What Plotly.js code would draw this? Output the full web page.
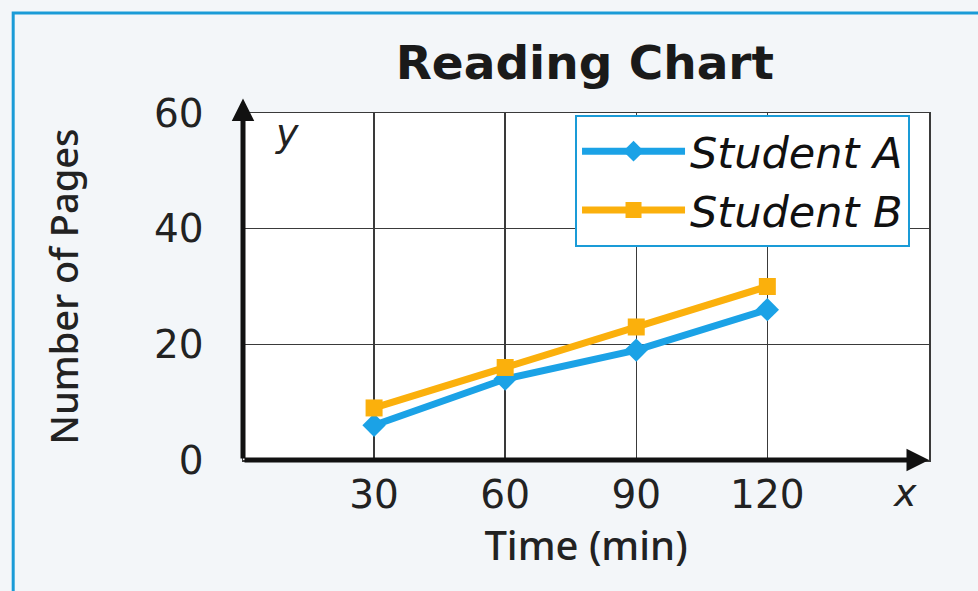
<!DOCTYPE html>
<html>
<head>
<meta charset="utf-8">
<script src="https://cdn.plot.ly/plotly-3.0.1.min.js"></script>
<style>
html,body{margin:0;padding:0;background:#f3f6f9;}
#chart{width:978px;height:591px;}
</style>
</head>
<body>
<div id="chart"></div>
<script>
// Data
const timeMin = [30, 60, 90, 120];
const studentA = [6, 14, 19, 26];
const studentB = [9, 16, 23, 30];
const xTickVals = [30, 60, 90, 120];
const xTickText = ['30', '60', '90', '120'];
const yTickVals = [0, 20, 40, 60];
const yTickText = ['0', '20', '40', '60'];
const seriesNames = ['Student A', 'Student B'];

const blue = '#1ba2e6';
const orange = '#fbb00c';
const font = 'Noto Sans, Open Sans, sans-serif';
const wide = 'DejaVu Sans, sans-serif';

const traces = [
  {
    x: timeMin, y: studentA, name: seriesNames[0], type: 'scatter', mode: 'lines+markers',
    line: {color: blue, width: 7},
    marker: {symbol: 'diamond', size: 18, color: blue},
    cliponaxis: false
  },
  {
    x: timeMin, y: studentB, name: seriesNames[1], type: 'scatter', mode: 'lines+markers',
    line: {color: orange, width: 7},
    marker: {symbol: 'square', size: 17, color: orange},
    cliponaxis: false
  }
];

const layout = {
  width: 978, height: 591,
  paper_bgcolor: '#f3f6f9',
  plot_bgcolor: '#ffffff',
  margin: {l: 243, r: 49, t: 113, b: 131, autoexpand: false},
  showlegend: true,
  title: {
    text: 'Reading Chart',
    font: {family: wide, size: 47, color: '#1a1a1a', weight: 'bold'},
    x: 0.598, xanchor: 'center', y: 0.895, yanchor: 'middle'
  },
  xaxis: {
    range: [0, 157],
    tickvals: xTickVals, ticktext: xTickText,
    showgrid: true, gridcolor: '#3a3a3a', gridwidth: 1.5,
    zeroline: false,
    showline: true, mirror: true, linecolor: '#3a3a3a', linewidth: 1.5,
    ticks: '', ticklabelstandoff: 0,
    tickfont: {family: wide, size: 39, color: '#222'},
    title: {text: 'Time (min)', font: {family: font, size: 40, color: '#222', weight: 500}, standoff: 8},
    fixedrange: true
  },
  yaxis: {
    range: [0, 60],
    tickvals: yTickVals, ticktext: yTickText,
    showgrid: true, gridcolor: '#3a3a3a', gridwidth: 1.5,
    zeroline: false,
    showline: true, mirror: true, linecolor: '#3a3a3a', linewidth: 1.5,
    ticks: '', ticklabelstandoff: 30,
    tickfont: {family: wide, size: 39, color: '#222'},
    title: {text: 'Number of Pages', font: {family: font, size: 38, color: '#222', weight: 500}, standoff: 64},
    fixedrange: true
  },
  legend: {
    x: 0.484, y: 0.995, xanchor: 'left', yanchor: 'top',
    bgcolor: '#ffffff', bordercolor: '#1a9bd7', borderwidth: 2,
    font: {family: wide, size: 43, color: '#111', style: 'italic'},
    itemwidth: 103, tracegroupgap: 2
  },
  shapes: [
    {type: 'rect', xref: 'paper', yref: 'paper', x0: -0.335, x1: 1.2, y0: -0.45, y1: 1.288, layer: 'below',
     line: {color: '#1a9bd7', width: 3}, fillcolor: 'rgba(0,0,0,0)'}
  ],
  annotations: [
    {xref: 'x', yref: 'y', axref: 'x', ayref: 'y', x: 0, y: 62.5, ax: 0, ay: 0,
     showarrow: true, arrowhead: 2, arrowsize: 0.9, arrowwidth: 5, arrowcolor: '#111', text: ''},
    {xref: 'x', yref: 'y', axref: 'x', ayref: 'y', x: 157, y: 0, ax: 0, ay: 0,
     showarrow: true, arrowhead: 2, arrowsize: 0.9, arrowwidth: 5, arrowcolor: '#111', text: ''},
    {xref: 'x', yref: 'y', x: 10, y: 56.5, text: 'y', showarrow: false,
     font: {family: wide, size: 38, color: '#222', style: 'italic'}},
    {xref: 'paper', yref: 'paper', x: 0.965, y: -0.095, xanchor: 'center', yanchor: 'middle', text: 'x', showarrow: false,
     font: {family: wide, size: 38, color: '#222', style: 'italic'}}
  ]
};

Plotly.newPlot('chart', traces, layout, {displayModeBar: false, staticPlot: true});
</script>
</body>
</html>
